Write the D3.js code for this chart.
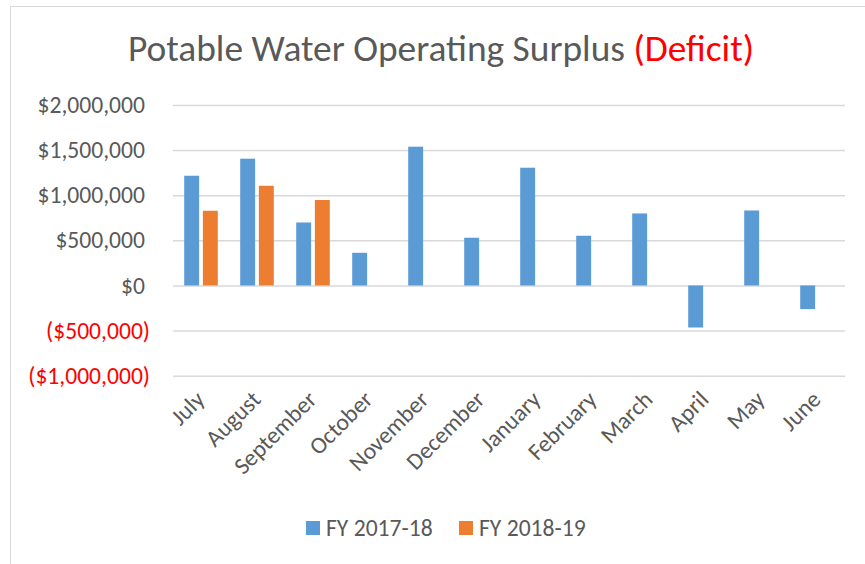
<!DOCTYPE html>
<html>
<head>
<meta charset="utf-8">
<script src="https://cdn.jsdelivr.net/npm/d3@7"></script>
<style>
  body { margin: 0; background: #fff; }
  text { font-family: Carlito, "Open Sans", "Liberation Sans", sans-serif; }
</style>
</head>
<body>
<script>
// monthly operating surplus
var months = ['July', 'August', 'September', 'October', 'November', 'December',
  'January', 'February', 'March', 'April', 'May', 'June']
var seriesNames = ['FY 2017-18', 'FY 2018-19']
var fy1718 = [1216000, 1405000, 698000, 362000, 1538000, 529000,
  1305000, 551000, 798000, -466000, 831000, -262000]
var fy1819 = [828000, 1105000, 947000, null, null, null,
  null, null, null, null, null, null]
var yTicks = [2000000, 1500000, 1000000, 500000, 0, -500000, -1000000]
var colors = ['#5b9bd5', '#ed7d31']

var W = 865
var H = 564
var plot = { left: 173, right: 845, top: 105, bottom: 375.7 }
var tickSize = '23.6px'

var svg = d3.select('body').append('svg')
  .attr('width', W)
  .attr('height', H)

// chart area border
svg.append('rect')
  .attr('x', 10.5).attr('y', 6.5)
  .attr('width', W).attr('height', H)
  .attr('fill', '#fff')
  .attr('stroke', '#d9d9d9')

var x = d3.scaleBand()
  .domain(months)
  .range([plot.left, plot.right])

var inner = d3.scaleBand()
  .domain(seriesNames)
  .range([0, x.bandwidth()])
  .paddingInner(0.2)
  .paddingOuter(0.6)

var y = d3.scaleLinear()
  .domain([-1000000, 2000000])
  .range([plot.bottom, plot.top])

// title
var title = svg.append('text')
  .attr('x', 441)
  .attr('y', 61)
  .attr('text-anchor', 'middle')
  .style('font-size', '37.4px')
title.append('tspan').attr('fill', '#595959').text('Potable Water Operating Surplus ')
title.append('tspan').attr('fill', '#ff0000').text('(Deficit)')

// gridlines + y labels
var fmt = d3.format('$,')
var yAxis = d3.axisLeft(y)
  .tickValues(yTicks)
  .tickSize(-(plot.right - plot.left))
  .tickPadding(28)
  .tickFormat(function (d) { return d < 0 ? '(' + fmt(-d) + ')' : fmt(d) })

var gy = svg.append('g')
  .attr('transform', 'translate(' + plot.left + ',0)')
  .call(yAxis)
gy.select('.domain').remove()
gy.selectAll('.tick line').attr('stroke', '#d9d9d9').attr('stroke-width', 1.5)
gy.selectAll('.tick text')
  .style('font-size', tickSize)
  .attr('fill', function (d) { return d < 0 ? '#ff0000' : '#595959' })
  .attr('dx', function (d) { return d < 0 ? 5 : 0 })

// bars
var rows = months.map(function (m, i) {
  return { month: m, values: [fy1718[i], fy1819[i]] }
})

var groups = svg.append('g').selectAll('g')
  .data(rows)
  .enter().append('g')
  .attr('transform', function (d) { return 'translate(' + x(d.month) + ',0)' })

groups.selectAll('rect')
  .data(function (d) {
    return d.values.map(function (v, j) { return { name: seriesNames[j], value: v, i: j } })
      .filter(function (e) { return e.value !== null })
  })
  .enter().append('rect')
  .attr('x', function (d) { return inner(d.name) })
  .attr('width', inner.bandwidth())
  .attr('y', function (d) { return y(Math.max(0, d.value)) })
  .attr('height', function (d) { return Math.abs(y(d.value) - y(0)) })
  .attr('fill', function (d) { return colors[d.i] })

// x labels, rotated
svg.append('g').selectAll('text')
  .data(months)
  .enter().append('text')
  .attr('transform', function (d) {
    return 'translate(' + (x(d) + x.bandwidth() / 2 + 5) + ',401) rotate(-45)'
  })
  .attr('text-anchor', 'end')
  .attr('fill', '#595959')
  .style('font-size', tickSize)
  .text(function (d) { return d })

// legend
var legend = svg.append('g').selectAll('g')
  .data(seriesNames)
  .enter().append('g')
  .attr('transform', function (d, i) { return 'translate(' + (306 + i * 153) + ',521)' })
legend.append('rect')
  .attr('width', 14).attr('height', 14)
  .attr('fill', function (d, i) { return colors[i] })
legend.append('text')
  .attr('x', 20).attr('y', 15)
  .attr('fill', '#595959')
  .style('font-size', tickSize)
  .text(function (d) { return d })
</script>
</body>
</html>
